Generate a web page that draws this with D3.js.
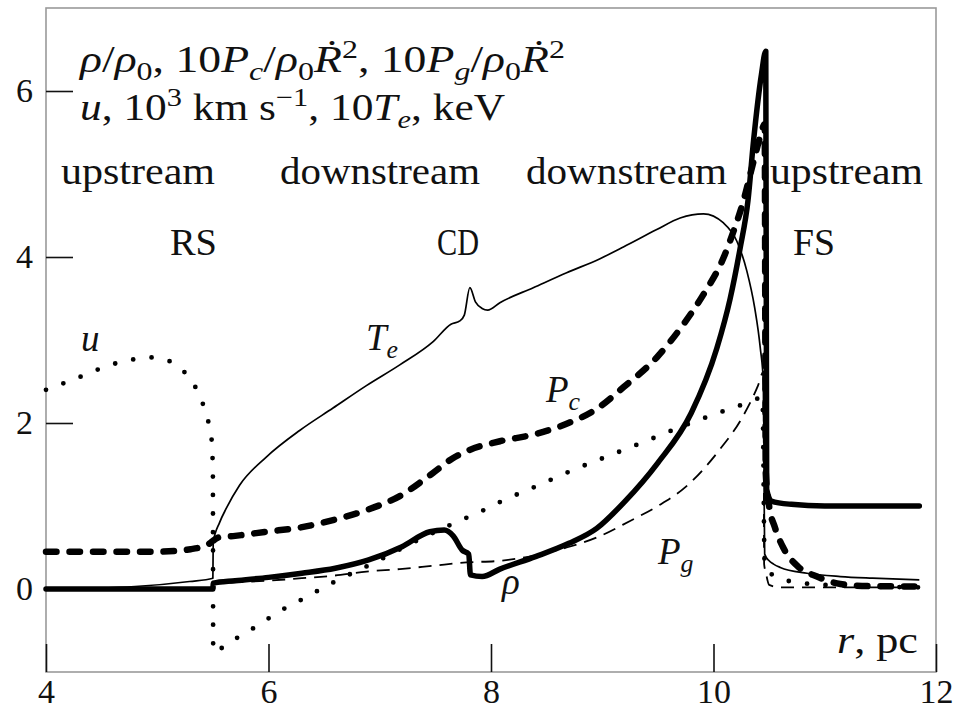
<!DOCTYPE html>
<html>
<head>
<meta charset="utf-8">
<script src="https://cdn.jsdelivr.net/npm/d3@7"></script>
<style>
  html, body { margin: 0; padding: 0; background: #fff; }
  svg { display: block; }
  text { font-family: 'Liberation Serif', 'Times New Roman', serif; fill: #111; }
</style>
</head>
<body>
<svg id="chart" width="957" height="711"></svg>
<script>
// Radial profiles [r (pc), value] across the remnant: reverse shock, contact
// discontinuity and forward shock.
const rho = [[4.0,0],[5.0,0],[5.5,0],[5.503,0.07],[5.7,0.1],[6.0,0.14],[6.3,0.19],[6.6,0.25],
  [6.9,0.35],[7.2,0.51],[7.45,0.69],[7.58,0.71],[7.66,0.64],[7.74,0.47],[7.80,0.42],[7.815,0.17],
  [7.92,0.15],[8.08,0.24],[8.4,0.39],[8.7,0.55],[8.95,0.73],[9.2,1.05],[9.5,1.52],[9.8,2.12],
  [10.03,2.9],[10.15,3.5],[10.24,4.11],[10.31,4.68],[10.36,5.4],[10.43,6.19],[10.47,6.48],
  [10.478,1.2],[10.52,1.06],[10.7,1.02],[11.0,1.0],[11.85,1.0]];

const Te = [[4.0,0],[4.8,0.03],[5.29,0.09],[5.5,0.13],[5.503,0.56],[5.56,0.80],[5.62,0.97],
  [5.74,1.25],[5.98,1.59],[6.28,1.91],[6.58,2.18],[6.88,2.45],[7.18,2.70],[7.48,2.98],[7.64,3.19],
  [7.72,3.23],[7.76,3.30],[7.81,3.63],[7.86,3.46],[7.92,3.38],[7.97,3.36],[8.08,3.45],[8.38,3.63],
  [8.68,3.81],[8.98,3.98],[9.19,4.12],[9.49,4.33],[9.70,4.47],[9.91,4.52],[10.09,4.41],[10.21,4.19],
  [10.30,3.83],[10.37,3.39],[10.42,2.91],[10.45,2.45],[10.455,1.2],[10.46,0.42],[10.5,0.34],
  [10.54,0.30],[10.6,0.26],[10.84,0.19],[11.14,0.15],[11.43,0.13],[11.85,0.11]];

const Pc = [[4.0,0.45],[5.0,0.45],[5.3,0.48],[5.45,0.53],[5.5,0.58],[5.55,0.62],[5.7,0.64],
  [5.98,0.69],[6.28,0.74],[6.58,0.83],[6.88,0.95],[7.18,1.12],[7.48,1.40],[7.65,1.57],[7.78,1.66],
  [8.08,1.78],[8.38,1.86],[8.68,1.99],[8.95,2.17],[9.19,2.43],[9.49,2.79],[9.73,3.19],[9.91,3.55],
  [10.09,3.99],[10.18,4.31],[10.27,4.68],[10.35,5.1],[10.42,5.45],[10.46,5.6],[10.47,1.4],
  [10.5,1.0],[10.55,0.75],[10.63,0.49],[10.76,0.27],[10.93,0.15],[11.14,0.06],[11.4,0.035],[11.85,0.03]];

const Pg = [[4.0,0],[5.5,0],[5.503,0.06],[6.0,0.1],[6.3,0.13],[6.58,0.16],[6.88,0.21],[7.18,0.24],
  [7.48,0.28],[7.78,0.32],[8.08,0.34],[8.38,0.40],[8.68,0.5],[8.95,0.62],[9.25,0.82],[9.5,1.0],
  [9.75,1.23],[10.05,1.67],[10.26,2.07],[10.40,2.45],[10.45,2.62],[10.455,0.3],[10.47,0.2],
  [10.5,0.05],[10.6,0.02],[11.85,0.02]];

const u = [[4.0,2.40],[4.10,2.45],[4.26,2.53],[4.42,2.62],[4.58,2.70],[4.76,2.76],[4.93,2.79],
  [5.10,2.75],[5.24,2.62],[5.34,2.44],[5.41,2.23],[5.46,2.01],[5.49,1.78],[5.50,1.4],[5.503,-0.76],
  [5.64,-0.65],[5.79,-0.53],[5.94,-0.41],[6.07,-0.29],[6.24,-0.17],[6.39,-0.06],[6.54,0.05],
  [7.0,0.35],[7.3,0.56],[7.63,0.77],[7.95,0.96],[8.10,1.06],[8.41,1.24],[8.73,1.43],[9.05,1.60],
  [9.37,1.77],[9.70,1.95],[10.02,2.11],[10.34,2.26],[10.44,2.31],[10.46,0.3],[10.5,0.2],
  [10.7,0.09],[11.0,0.05],[11.85,0.02]];

const rTicks = [4, 6, 8, 10, 12];
const vTicks = [0, 2, 4, 6];
const regionLabels = ["upstream", "downstream", "downstream", "upstream"];
const shockLabels = ["RS", "CD", "FS"];

const svg = d3.select("#chart");
const plotLeft = 46, plotRight = 936, plotTop = 8, plotBottom = 672;

const x = d3.scaleLinear().domain([4, 12]).range([plotLeft, plotRight]);
const y = d3.scaleLinear().domain([-1, 7]).range([plotBottom, plotTop]);

// frame
svg.append("rect")
  .attr("x", plotLeft).attr("y", plotTop)
  .attr("width", plotRight - plotLeft).attr("height", plotBottom - plotTop)
  .attr("fill", "none").attr("stroke", "#9a9a9a").attr("stroke-width", 1.6);

// axes with inward ticks
const yAxis = svg.append("g").attr("transform", `translate(${plotLeft},0)`)
  .call(d3.axisLeft(y).tickValues(vTicks).tickSize(-27).tickPadding(13).tickFormat(d3.format("d")));
const xAxis = svg.append("g").attr("transform", `translate(0,${plotBottom})`)
  .call(d3.axisBottom(x).tickValues(rTicks).tickSize(-28).tickPadding(7).tickFormat(d3.format("d")));
[xAxis, yAxis].forEach(a => {
  a.select(".domain").remove();
  a.selectAll(".tick line").attr("stroke", "#111").attr("stroke-width", 1.6);
  a.selectAll(".tick text").attr("font-size", 34)
    .attr("font-family", "'Liberation Serif', serif").attr("fill", "#111");
});

// curves
const line = d3.line().x(d => x(d[0])).y(d => y(d[1])).curve(d3.curveMonotoneX);
const g = svg.append("g").attr("fill", "none").attr("stroke", "#000");

g.append("path").attr("d", line(Pg))
  .attr("stroke-width", 1.8).attr("stroke-dasharray", "13,8");
g.append("path").attr("d", line(u))
  .attr("stroke-width", 4.8).attr("stroke-linecap", "round").attr("stroke-dasharray", "0,18.5");
g.append("path").attr("d", line(Te))
  .attr("stroke-width", 1.7).attr("stroke-linejoin", "round");
g.append("path").attr("d", line(Pc))
  .attr("stroke-width", 6.5).attr("stroke-linecap", "round").attr("stroke-dasharray", "10.5,13");
g.append("path").attr("d", line(rho))
  .attr("stroke-width", 5.5).attr("stroke-linejoin", "round").attr("stroke-linecap", "round");

// rich text with italics, subscripts and superscripts
function rich(sx, sy, parts, size, width) {
  const t = svg.append("text").attr("x", sx).attr("y", sy).attr("font-size", size);
  let shift = 0;
  parts.forEach(p => {
    const target = p.sub ? 0.22 * size : p.sup ? -0.38 * size : 0;
    const ts = t.append("tspan").text(p.t).attr("dy", target - shift);
    shift = target;
    if (p.i) ts.attr("font-style", "italic");
    if (p.sub || p.sup) ts.attr("font-size", size * 0.7);
  });
  if (width) t.attr("textLength", width).attr("lengthAdjust", "spacingAndGlyphs");
  return t;
}

const R2 = [{t: "\u1E58", i: 1}, {t: "2", sup: 1}];
rich(80, 72, [
  {t: "ρ", i: 1}, {t: "/"}, {t: "ρ", i: 1}, {t: "0", sub: 1}, {t: ", 10"},
  {t: "P", i: 1}, {t: "c", i: 1, sub: 1}, {t: "/"}, {t: "ρ", i: 1}, {t: "0", sub: 1}, ...R2,
  {t: ", 10"}, {t: "P", i: 1}, {t: "g", i: 1, sub: 1}, {t: "/"}, {t: "ρ", i: 1}, {t: "0", sub: 1}, ...R2
], 37, 485);
rich(80, 120, [
  {t: "u", i: 1}, {t: ", 10"}, {t: "3", sup: 1}, {t: " km s"}, {t: "−1", sup: 1},
  {t: ", 10"}, {t: "T", i: 1}, {t: "e", i: 1, sub: 1}, {t: ", keV"}
], 37, 425);

// region and shock labels
const regionPos = [[61, 154], [280, 200], [526, 201], [770, 153]];
regionLabels.forEach((s, i) => {
  svg.append("text").attr("x", regionPos[i][0]).attr("y", 184).attr("font-size", 37)
    .attr("textLength", regionPos[i][1]).attr("lengthAdjust", "spacingAndGlyphs").text(s);
});
const shockPos = [[170, 47], [437, 42], [793, 42]];
shockLabels.forEach((s, i) => {
  svg.append("text").attr("x", shockPos[i][0]).attr("y", 255).attr("font-size", 37)
    .attr("textLength", shockPos[i][1]).attr("lengthAdjust", "spacingAndGlyphs").text(s);
});

// curve labels
rich(81, 351, [{t: "u", i: 1}], 37);
rich(366, 350, [{t: "T", i: 1}, {t: "e", i: 1, sub: 1}], 37);
rich(546, 402, [{t: "P", i: 1}, {t: "c", i: 1, sub: 1}], 37);
rich(658, 564, [{t: "P", i: 1}, {t: "g", i: 1, sub: 1}], 37);
rich(502, 594, [{t: "ρ", i: 1}], 37);
rich(837, 653, [{t: "r", i: 1}, {t: ", pc"}], 37, 81);
</script>
</body>
</html>
